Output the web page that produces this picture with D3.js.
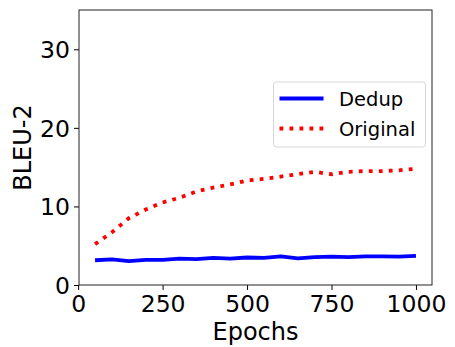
<!DOCTYPE html>
<meta charset="utf-8">
<style>
body { margin: 0; background: #fff; }
text { font-family: "DejaVu Sans", sans-serif; fill: #000; }
.tick line { stroke: #000; }
</style>
<svg></svg>
<script src="https://cdn.jsdelivr.net/npm/d3@7"></script>
<script>

// epochs on the x axis
var epochs = [50, 100, 150, 200, 250, 300, 350, 400, 450, 500,
              550, 600, 650, 700, 750, 800, 850, 900, 950, 1000];

var dedup = [3.15, 3.25, 3.05, 3.2, 3.2, 3.35, 3.3, 3.45, 3.35, 3.5,
             3.45, 3.65, 3.4, 3.55, 3.6, 3.55, 3.65, 3.65, 3.6, 3.7];

var original = [5.2, 6.7, 8.5, 9.6, 10.5, 11.1, 11.9, 12.4, 12.8, 13.3,
                13.5, 13.8, 14.1, 14.4, 14.1, 14.4, 14.5, 14.5, 14.6, 14.8];

var xTicks = [0, 250, 500, 750, 1000];
var yTicks = [0, 10, 20, 30];

var width = 455,
    height = 347,
    margin = {top: 10, right: 23, bottom: 62, left: 79};

var svg = d3.select("svg")
    .attr("width", width)
    .attr("height", height);

var x = d3.scaleLinear()
    .domain([2.5, 1047.5])
    .range([margin.left, width - margin.right]);

var y = d3.scaleLinear()
    .domain([0, 35])
    .range([height - margin.bottom, margin.top]);

var g = svg.append("g");

// axes
var xAxis = g.append("g")
    .attr("transform", "translate(0," + (height - margin.bottom) + ")")
    .call(d3.axisBottom(x).tickValues(xTicks).tickFormat(d3.format("d")).tickSize(5).tickPadding(4));

var yAxis = g.append("g")
    .attr("transform", "translate(" + margin.left + ",0)")
    .call(d3.axisLeft(y).tickValues(yTicks).tickFormat(d3.format("d")).tickSize(5).tickPadding(4));

[xAxis, yAxis].forEach(function(a) {
  a.select(".domain").remove();
  a.selectAll("text")
      .style("font-size", "23.5px")
      .attr("fill", "#000");
});
xAxis.selectAll("text").attr("dy", "0.75em");
yAxis.selectAll("text").attr("dy", "0.36em");

// lines
var line = function(vals) {
  return d3.line()
      .x(function(d, i) { return x(epochs[i]); })
      .y(function(d) { return y(d); })(vals);
};

g.append("path")
    .attr("d", line(dedup))
    .attr("fill", "none")
    .attr("stroke", "#0000ff")
    .attr("stroke-width", 3.8)
    .attr("stroke-linejoin", "round");

g.append("path")
    .attr("d", line(original))
    .attr("fill", "none")
    .attr("stroke", "#ff0000")
    .attr("stroke-width", 3.8)
    .attr("stroke-dasharray", "3.8,6.2");

// frame
g.append("rect")
    .attr("x", margin.left)
    .attr("y", margin.top)
    .attr("width", width - margin.left - margin.right)
    .attr("height", height - margin.top - margin.bottom)
    .attr("fill", "none")
    .attr("stroke", "#222")
    .attr("stroke-width", 1);

// axis labels
svg.append("text")
    .attr("x", (margin.left + width - margin.right) / 2)
    .attr("y", 340)
    .attr("text-anchor", "middle")
    .style("font-size", "24px")
    .text("Epochs");

svg.append("text")
    .attr("transform", "translate(31," + ((margin.top + height - margin.bottom) / 2) + ") rotate(-90)")
    .attr("text-anchor", "middle")
    .style("font-size", "24px")
    .text("BLEU-2");

// legend
var legend = svg.append("g");
legend.append("rect")
    .attr("x", 273.5)
    .attr("y", 82)
    .attr("width", 152)
    .attr("height", 65)
    .attr("rx", 3)
    .attr("fill", "#fff")
    .attr("stroke", "#d6d6d6")
    .attr("stroke-width", 1);

var items = [
  {name: "Dedup", color: "#0000ff", dash: null, y: 98.5},
  {name: "Original", color: "#ff0000", dash: "3.8,6.2", y: 128.5}
];

items.forEach(function(it) {
  legend.append("line")
      .attr("x1", 279.5).attr("x2", 323.5)
      .attr("y1", it.y).attr("y2", it.y)
      .attr("stroke", it.color)
      .attr("stroke-width", 3.8)
      .attr("stroke-dasharray", it.dash);
  legend.append("text")
      .attr("x", 339)
      .attr("y", it.y)
      .attr("dy", "0.36em")
      .style("font-size", "19.5px")
      .text(it.name);
});

</script>
